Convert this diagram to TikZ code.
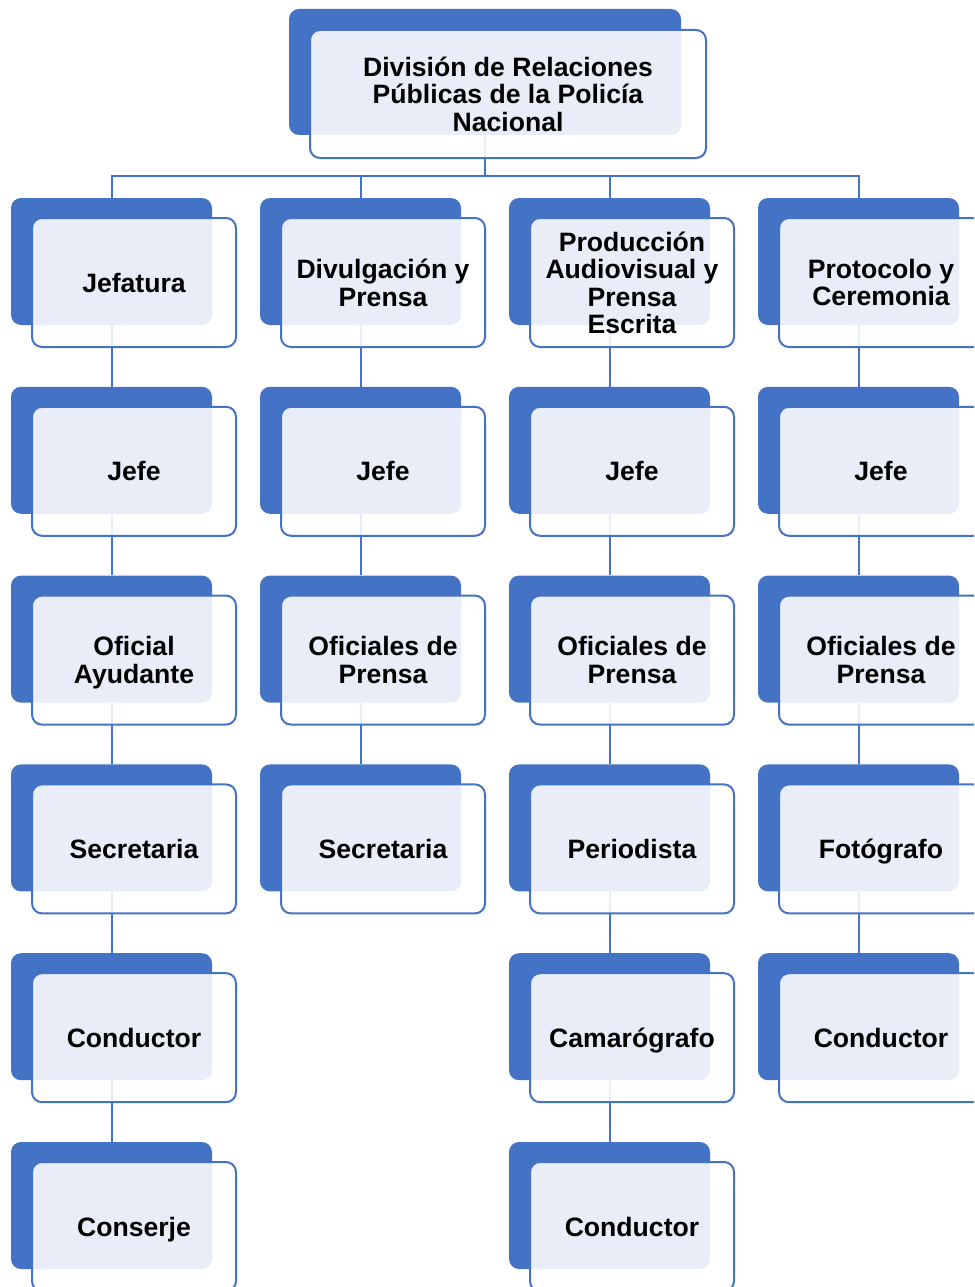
\documentclass[tikz,border=0pt]{standalone}
\usepackage{fontspec}
\setmainfont{Liberation Sans}
\definecolor{acc}{HTML}{4472C4}
\tikzset{
 backbox/.style={rectangle, rounded corners=10pt, fill=acc, minimum width=201pt, minimum height=127pt, inner sep=0pt},
 frontbox/.style={rectangle, rounded corners=10pt, draw=acc, line width=2pt, fill=white, fill opacity=0.88, text opacity=1, minimum width=204pt, minimum height=129pt, inner sep=0pt, align=center, text depth=0pt, font=\fontsize{26.6}{27.5}\selectfont\bfseries},
 conn/.style={draw=acc, line width=2pt}
}
\newcommand\backat[3]{\node[backbox] (b#1) at ({111.5+249*(#2-1)},{261.5+188.8*(#3-1)}) {};}
\newcommand\frontat[4]{\node[frontbox] (f#1) at ({134+249*(#2-1)},{282.5+188.8*(#3-1)}) {#4};}
\begin{document}
\begin{tikzpicture}[x=1pt,y=-1pt]
\useasboundingbox (0,0) rectangle (974,1287);
\clip (0,0) rectangle (974,1287);
% back boxes
\node[backbox, minimum width=392pt, minimum height=126pt] (btop) at (485,72) {};
\backat{11}{1}{1}\backat{12}{1}{2}\backat{13}{1}{3}\backat{14}{1}{4}\backat{15}{1}{5}\backat{16}{1}{6}
\backat{21}{2}{1}\backat{22}{2}{2}\backat{23}{2}{3}\backat{24}{2}{4}
\backat{31}{3}{1}\backat{32}{3}{2}\backat{33}{3}{3}\backat{34}{3}{4}\backat{35}{3}{5}\backat{36}{3}{6}
\backat{41}{4}{1}\backat{42}{4}{2}\backat{43}{4}{3}\backat{44}{4}{4}\backat{45}{4}{5}
% connectors
\coordinate (bus) at (485,176);
\draw[conn] (btop.south) -- (btop.south |- bus);
\draw[conn] (b11.north) -- (b11.north |- bus) -- (b41.north |- bus) -- (b41.north);
\draw[conn] (b21.north) -- (b21.north |- bus);
\draw[conn] (b31.north) -- (b31.north |- bus);
\draw[conn] (b11.south) -- (b12.north);
\draw[conn] (b12.south) -- (b13.north);
\draw[conn] (b13.south) -- (b14.north);
\draw[conn] (b14.south) -- (b15.north);
\draw[conn] (b15.south) -- (b16.north);
\draw[conn] (b21.south) -- (b22.north);
\draw[conn] (b22.south) -- (b23.north);
\draw[conn] (b23.south) -- (b24.north);
\draw[conn] (b31.south) -- (b32.north);
\draw[conn] (b32.south) -- (b33.north);
\draw[conn] (b33.south) -- (b34.north);
\draw[conn] (b34.south) -- (b35.north);
\draw[conn] (b35.south) -- (b36.north);
\draw[conn] (b41.south) -- (b42.north);
\draw[conn] (b42.south) -- (b43.north);
\draw[conn] (b43.south) -- (b44.north);
\draw[conn] (b44.south) -- (b45.north);
% front boxes
\node[frontbox, minimum width=396pt, minimum height=128pt] (ftop) at (508,94) {División de Relaciones\\Públicas de la Policía\\Nacional};
\frontat{11}{1}{1}{Jefatura}
\frontat{12}{1}{2}{Jefe}
\frontat{13}{1}{3}{Oficial\\Ayudante}
\frontat{14}{1}{4}{Secretaria}
\frontat{15}{1}{5}{Conductor}
\frontat{16}{1}{6}{Conserje}
\frontat{21}{2}{1}{Divulgación y\\Prensa}
\frontat{22}{2}{2}{Jefe}
\frontat{23}{2}{3}{Oficiales de\\Prensa}
\frontat{24}{2}{4}{Secretaria}
\frontat{31}{3}{1}{Producción\\Audiovisual y\\Prensa\\Escrita}
\frontat{32}{3}{2}{Jefe}
\frontat{33}{3}{3}{Oficiales de\\Prensa}
\frontat{34}{3}{4}{Periodista}
\frontat{35}{3}{5}{Camarógrafo}
\frontat{36}{3}{6}{Conductor}
\frontat{41}{4}{1}{Protocolo y\\Ceremonia}
\frontat{42}{4}{2}{Jefe}
\frontat{43}{4}{3}{Oficiales de\\Prensa}
\frontat{44}{4}{4}{Fotógrafo}
\frontat{45}{4}{5}{Conductor}
\end{tikzpicture}
\end{document}
